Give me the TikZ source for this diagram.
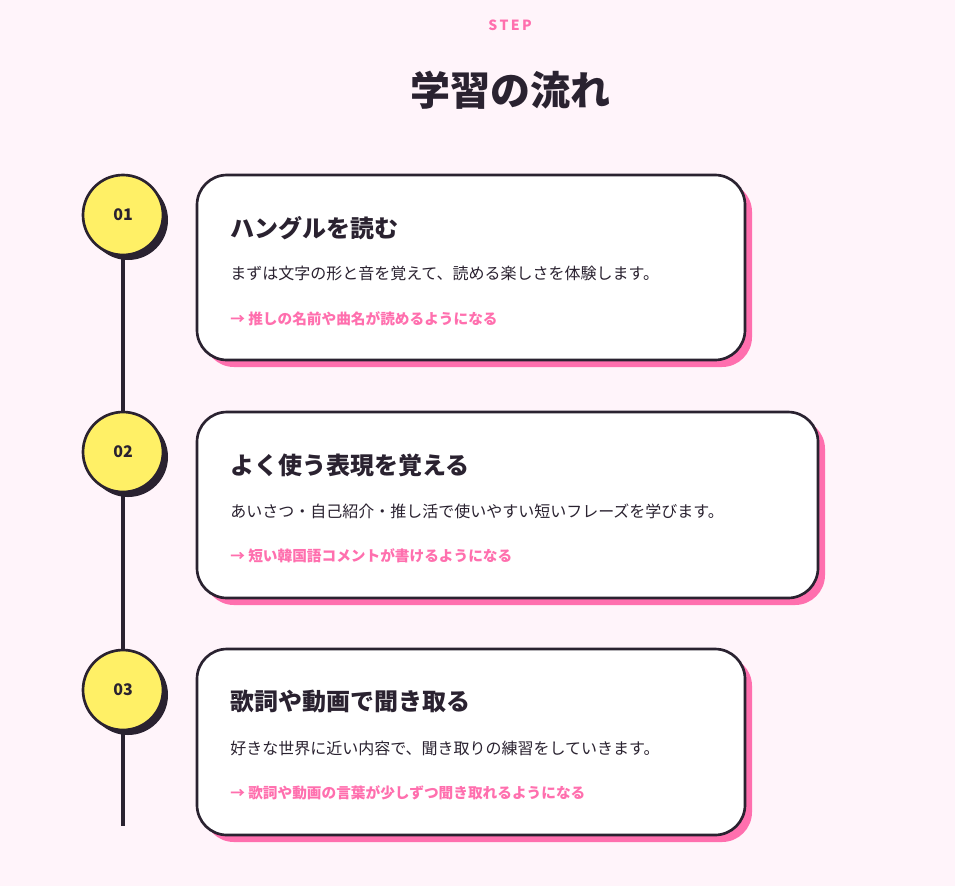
\documentclass[tikz,border=0pt]{standalone}
\usepackage{fontspec}
\setmainfont{Noto Sans CJK JP}
\begin{document}
\definecolor{bg}{HTML}{FFF4FA}
\definecolor{ink}{HTML}{2A2230}
\definecolor{pinkc}{HTML}{FF6FAE}
\definecolor{yel}{HTML}{FFF066}
\begin{tikzpicture}[x=0.75pt,y=-0.75pt,
 card/.style={draw=ink,line width=2pt,fill=white,rounded corners=22.5pt},
 cshadow/.style={fill=pinkc,rounded corners=22.5pt},
 num/.style={circle,draw=ink,line width=2pt,fill=yel,minimum size=60pt,inner sep=0pt,font=\bfseries\fontsize{12}{12}\selectfont,text=ink},
 nshadow/.style={circle,fill=ink,minimum size=60pt,inner sep=0pt},
 head/.style={anchor=west,font=\bfseries\fontsize{18}{20}\selectfont,text=ink,inner sep=0pt},
 body/.style={anchor=west,font=\fontsize{12}{14}\selectfont,text=ink,inner sep=0pt},
 link/.style={anchor=west,font=\bfseries\fontsize{11}{13}\selectfont,text=pinkc,inner sep=0pt}]
\fill[bg] (0,0) rectangle (955,886);
\useasboundingbox (0,0) rectangle (955,886);
\node[font=\bfseries\fontsize{10.5}{12}\selectfont,text=pinkc] (step) at (510,25) {S\,T\,E\,P};
\node[font=\bfseries\fontsize{30}{34}\selectfont,text=ink] (title) at (510,90) {学習の流れ};
\coordinate (ltop) at (123,215); \coordinate (lbot) at (123,826);
\draw[ink,line width=3pt] (ltop) -- (lbot);
% cards
\fill[cshadow] (204,182) rectangle (752,367);
\draw[card] (197,175) rectangle (745,360);
\fill[cshadow] (204,419) rectangle (825,605);
\draw[card] (197,412) rectangle (818,598);
\fill[cshadow] (204,656) rectangle (752,842);
\draw[card] (197,649) rectangle (745,835);
% circles
\foreach \y/\n in {215/01,452/02,690/03}{
 \node[nshadow] (s\n) at (128,\y+5) {};
 \node[num] (c\n) at (123,\y) {\n};
}
\node[head] (h1) at (230,228) {ハングルを読む};
\node[body] (b1) at (230,273) {まずは文字の形と音を覚えて、読める楽しさを体験します。};
\node[link] (l1) at (230,319) {→ 推しの名前や曲名が読めるようになる};
\node[head] (h2) at (230,465) {よく使う表現を覚える};
\node[body] (b2) at (230,511) {あいさつ・自己紹介・推し活で使いやすい短いフレーズを学びます。};
\node[link] (l2) at (230,556) {→ 短い韓国語コメントが書けるようになる};
\node[head] (h3) at (230,702) {歌詞や動画で聞き取る};
\node[body] (b3) at (230,748) {好きな世界に近い内容で、聞き取りの練習をしていきます。};
\node[link] (l3) at (230,793) {→ 歌詞や動画の言葉が少しずつ聞き取れるようになる};
\end{tikzpicture}
\end{document}
